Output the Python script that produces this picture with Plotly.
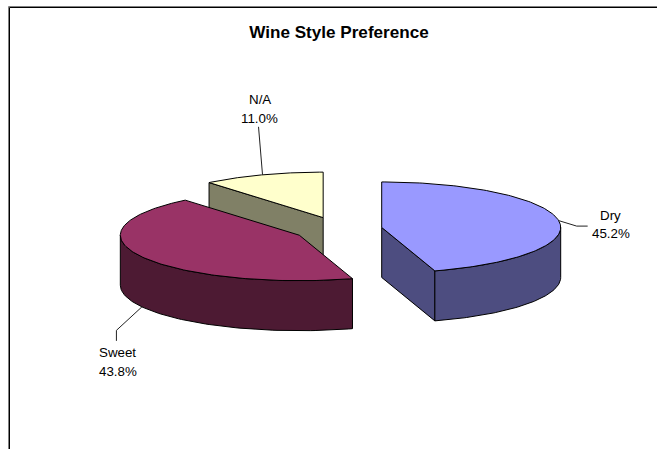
import numpy as np
import plotly.graph_objects as go

categories = ["Dry", "Sweet", "N/A"]
percent_values = [45.2, 43.8, 11.0]
top_colors = ["#9999FF", "#993366", "#FFFFCC"]
side_colors = ["#4D4D80", "#4D1A33", "#808066"]
title_text = "Wine Style Preference"

# Pie projection (pixel scale of the axes below)
W, H = 657, 449
CX, CY = 338.1, 229.3
RX, RY = 179.0, 45.5
DEPTH = 50.0
EXPLODE_X, EXPLODE_Y = 44.1, 12.4
FONT = "Liberation Sans, Arial, sans-serif"
LINE_GAP = 18.7

# Leader-line elbows relative to the anchor on each slice, label centre relative to the anchor
leader_steps = {
    "Dry": [(18, 5.5), (29, 5.5)],
    "Sweet": [(-25.5, 23.5), (-25.5, 34)],
    "N/A": [(-4, -48)],
}
label_offsets = {"Dry": (52, 4), "Sweet": (-24, 55), "N/A": (-3, -66)}


def pt(cx, cy, deg):
    a = np.radians(deg)
    return cx + RX * np.sin(a), cy - RY * np.cos(a)


fig = go.Figure()


def poly(xs, ys, color):
    fig.add_trace(go.Scatter(
        x=list(xs), y=list(ys), mode="lines", fill="toself", fillcolor=color,
        line=dict(color="black", width=1), hoverinfo="skip", showlegend=False))


def leader(xs, ys):
    fig.add_trace(go.Scatter(
        x=xs, y=ys, mode="lines", line=dict(color="#222222", width=1),
        hoverinfo="skip", showlegend=False))


# slice angle spans, clockwise from 12 o'clock
total = sum(percent_values)
spans = []
start = 0.0
for v in percent_values:
    end = start + 360.0 * v / total
    spans.append((start, end))
    start = end

centres = []
for s, e in spans:
    m = np.radians((s + e) / 2)
    centres.append((CX + EXPLODE_X * np.sin(m), CY - EXPLODE_Y * np.cos(m)))

# draw back to front
for i in [2, 1, 0]:
    s, e = spans[i]
    cx, cy = centres[i]
    # cut face on the clockwise-start side (visible for the back slice)
    if s > 270:
        x0, y0 = pt(cx, cy, s)
        poly([x0, cx, cx, x0, x0], [y0, cy, cy + DEPTH, y0 + DEPTH, y0], side_colors[i])
    # cut face on the clockwise-end side (visible for the front-right slice)
    if e < 180:
        x1, y1 = pt(cx, cy, e)
        poly([cx, x1, x1, cx, cx], [cy, y1, y1 + DEPTH, cy + DEPTH, cy], side_colors[i])
    # outer wall on the front half of the ellipse
    a0, a1 = max(s, 90), min(e, 270)
    if a1 > a0:
        t = np.linspace(a0, a1, 80)
        xa, ya = pt(cx, cy, t)
        poly(np.r_[xa, xa[::-1], xa[0]], np.r_[ya, ya[::-1] + DEPTH, ya[0]], side_colors[i])
    # top
    t = np.linspace(s, e, 160)
    xa, ya = pt(cx, cy, t)
    poly(np.r_[cx, xa, cx], np.r_[cy, ya, cy], top_colors[i])

# labels with leader lines
for i, name in enumerate(categories):
    s, e = spans[i]
    cx, cy = centres[i]
    m = (s + e) / 2
    ax, ay = pt(cx, cy, m)
    if 90 < m < 270:
        ay += DEPTH
    steps = leader_steps[name]
    leader([ax] + [ax + d[0] for d in steps], [ay] + [ay + d[1] for d in steps])
    dx, dy = label_offsets[name]
    for line, shift in ((name, -LINE_GAP / 2), (f"{percent_values[i]:.1f}%", LINE_GAP / 2)):
        fig.add_annotation(
            x=ax + dx, y=ay + dy + shift, xref="x", yref="y", showarrow=False,
            text=line, font=dict(family=FONT, size=13.33, color="black"))

# chart frame: clipped by the window on the right and at the bottom
for offs, col in [(8.5, "#808080"), (9.5, "black")]:
    fig.add_shape(type="line", x0=offs, x1=offs, y0=offs - 2, y1=H, xref="x", yref="y",
                  line=dict(color=col, width=1))
    fig.add_shape(type="line", x0=offs, x1=W, y0=offs - 2, y1=offs - 2, xref="x", yref="y",
                  line=dict(color=col, width=1))

fig.update_layout(
    width=W, height=H, margin=dict(l=0, r=0, t=0, b=0),
    paper_bgcolor="white", plot_bgcolor="white", showlegend=False,
    title=dict(text=f"<b>{title_text}</b>", x=339 / W, y=1 - 32 / H,
               xanchor="center", yanchor="middle",
               font=dict(family=FONT, size=17.1, color="black")),
    xaxis=dict(range=[0, W], visible=False, fixedrange=True),
    yaxis=dict(range=[H, 0], visible=False, fixedrange=True),
)
fig.write_html("out.html", config={"displayModeBar": False},
               post_script="document.body.style.margin='0';document.body.style.overflow='hidden';")
